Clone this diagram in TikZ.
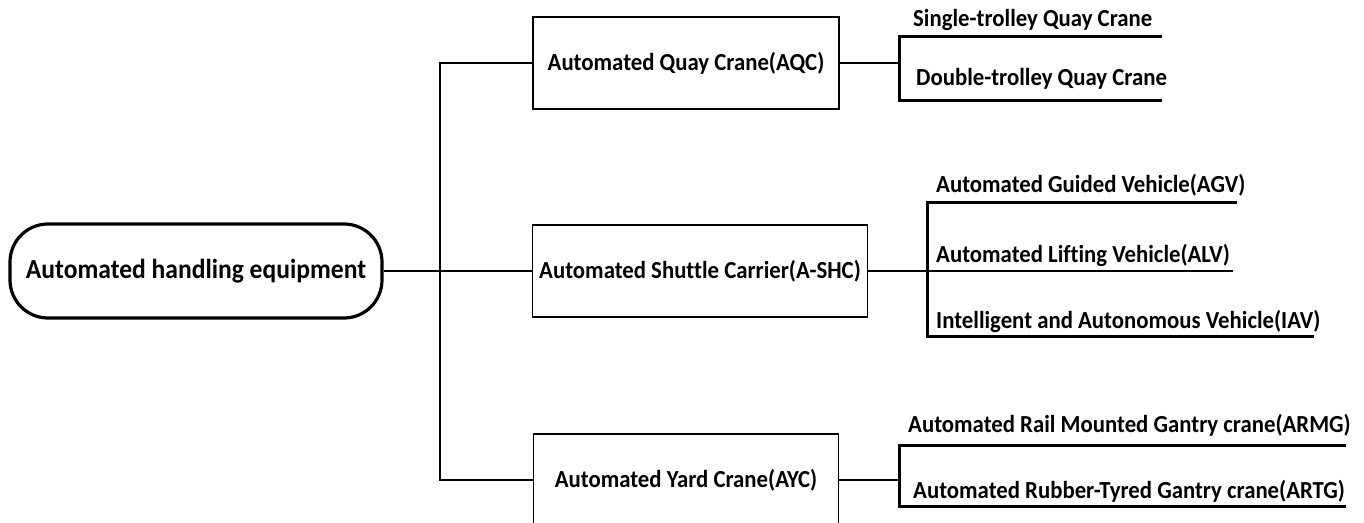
\documentclass[tikz,border=0pt]{standalone}
\usepackage{fontspec}
\setmainfont[Ligatures=CommonOff, FakeStretch=0.93]{Carlito}
\begin{document}
\begin{tikzpicture}[x=1pt,y=-1pt,
  rootbox/.style={draw, line width=3.2pt, rounded corners=38pt, minimum width=372pt, minimum height=94pt, inner sep=0pt, font=\bfseries\fontsize{27.5}{32}\selectfont},
  midbox/.style={draw, line width=1.8pt, inner sep=0pt, minimum height=92pt, font=\bfseries\fontsize{24.5}{29}\selectfont},
  leaf/.style={anchor=base west, inner sep=0pt, font=\bfseries\fontsize{24.5}{29}\selectfont},
  conn/.style={line width=2.8pt},
  thinconn/.style={line width=1.6pt},
  under/.style={line width=3pt}]
\useasboundingbox (0,0) rectangle (1364,522);
\clip (0,0) rectangle (1364,522);
% main nodes
\node[rootbox] (root) at (196,271) {Automated handling equipment};
\node[midbox, minimum width=306pt] (aqc) at (686,63) {Automated Quay Crane(AQC)};
\node[midbox, minimum width=335pt] (shc) at (700,271) {Automated Shuttle Carrier(A-SHC)};
\node[midbox, minimum width=305pt] (ayc) at (686,480) {Automated Yard Crane(AYC)};
% trunk
\coordinate (jt) at (440,63);
\coordinate (jm) at (440,271);
\coordinate (jb) at (440,480);
\draw[conn] (root.east) -- (jm);
\draw[thinconn] (jm) -- (shc.west);
\draw[conn, line join=miter] (aqc.west) -- (jt) -- (jb) -- (ayc.west);
% AQC bracket
\coordinate (qa) at (899,36);
\coordinate (qb) at (899,100);
\coordinate (qm) at (899,63);
\coordinate (qae) at (1162,36);
\coordinate (qbe) at (1162,100);
\draw[conn] (aqc.east) -- (qm);
\draw[under, line join=miter] (qae) -- (qa) -- (qb) -- (qbe);
\node[leaf] (q1) at (913,26) {Single-trolley Quay Crane};
\node[leaf] (q2) at (916,85) {Double-trolley Quay Crane};
% SHC bracket
\coordinate (sa) at (927,202);
\coordinate (sm) at (927,271);
\coordinate (sb) at (927,336);
\coordinate (sae) at (1237,202);
\coordinate (sme) at (1233,271);
\coordinate (sbe) at (1314,336);
\draw[conn] (shc.east) -- (sm) -- (sme);
\draw[under, line join=miter] (sae) -- (sa) -- (sb) -- (sbe);
\node[leaf] (s1) at (936,192) {Automated Guided Vehicle(AGV)};
\node[leaf] (s2) at (936,262) {Automated Lifting Vehicle(ALV)};
\node[leaf] (s3) at (936,328) {Intelligent and Autonomous Vehicle(IAV)};
% AYC bracket
\coordinate (ya) at (899,445);
\coordinate (ym) at (899,480);
\coordinate (yb) at (899,506);
\coordinate (yae) at (1346,445);
\coordinate (ybe) at (1346,506);
\draw[conn] (ayc.east) -- (ym);
\draw[under, line join=miter] (yae) -- (ya) -- (yb) -- (ybe);
\node[leaf] (y1) at (908,432) {Automated Rail Mounted Gantry crane(ARMG)};
\node[leaf] (y2) at (913,498) {Automated Rubber-Tyred Gantry crane(ARTG)};
\end{tikzpicture}
\end{document}
